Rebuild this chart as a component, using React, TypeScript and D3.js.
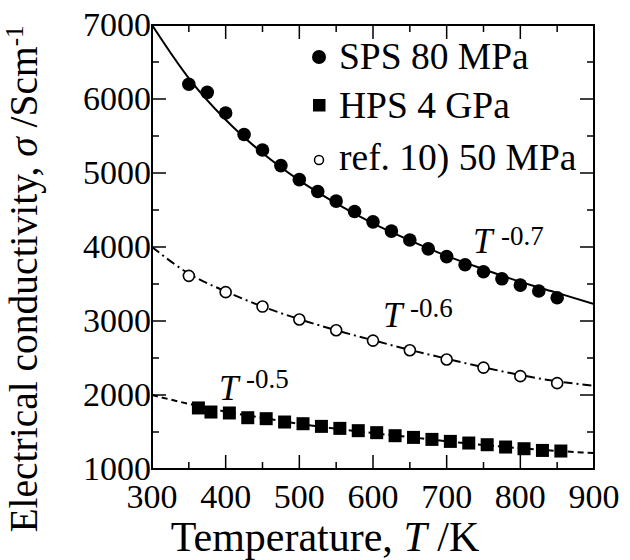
import React from "react";
import * as d3 from "d3";

// SPS 80 MPa (filled circles)
const spsTemp = [350, 375, 400, 425, 450, 475, 500, 525, 550, 575, 600, 625, 650, 675, 700, 725, 750, 775, 800, 825, 850];
const spsSigma = [6200, 6090, 5810, 5520, 5310, 5100, 4910, 4750, 4620, 4480, 4340, 4215, 4095, 3975, 3870, 3760, 3665, 3570, 3485, 3405, 3315];

// HPS 4 GPa (filled squares)
const hpsTemp = [363, 380, 405, 430, 455, 480, 505, 530, 555, 580, 605, 630, 655, 680, 705, 730, 755, 780, 805, 830, 855];
const hpsSigma = [1825, 1770, 1757, 1693, 1680, 1635, 1612, 1576, 1549, 1518, 1491, 1450, 1427, 1400, 1373, 1351, 1328, 1297, 1274, 1251, 1243];

// ref. 10) 50 MPa (open circles)
const refTemp = [350, 400, 450, 500, 550, 600, 650, 700, 750, 800, 850];
const refSigma = [3610, 3390, 3195, 3020, 2875, 2735, 2605, 2480, 2370, 2255, 2160];

// fitted curves
const fitTemp = [300, 350, 400, 450, 500, 550, 600, 650, 700, 750, 800, 850, 900];
const spsFit = [7000, 6280, 5720, 5270, 4900, 4590, 4320, 4090, 3880, 3700, 3530, 3380, 3230];
const refFit = [4000, 3640, 3400, 3195, 3025, 2875, 2740, 2610, 2490, 2375, 2270, 2185, 2125];
const hpsFit = [2000, 1880, 1775, 1690, 1610, 1545, 1485, 1430, 1375, 1325, 1280, 1245, 1215];

const xTicks = [300, 400, 500, 600, 700, 800, 900];
const yTicks = [1000, 2000, 3000, 4000, 5000, 6000, 7000];

const legendLabels = ["SPS 80 MPa", "HPS 4 GPa", "ref. 10) 50 MPa"];

const FONT = "'Liberation Serif', 'Times New Roman', serif";

export default function App() {
  const W = 630, H = 560;
  const m = { left: 152, right: 594, top: 25, bottom: 469 };

  const x = d3.scaleLinear().domain([300, 900]).range([m.left, m.right]);
  const y = d3.scaleLinear().domain([1000, 7000]).range([m.bottom, m.top]);

  const line = (temps: number[], vals: number[]) =>
    d3.line<number>()
      .x((_, i) => x(temps[i]))
      .y(d => y(d))
      .curve(d3.curveMonotoneX)(vals) || "";

  const xMinor = d3.range(350, 900, 100);
  const yMinor = d3.range(1500, 7000, 1000);

  return (
    <svg width={W} height={H} style={{ position: "absolute", left: 0, top: 0, background: "#fff" }} fontFamily={FONT}>
      <defs>
        <clipPath id="plot">
          <rect x={m.left} y={m.top} width={m.right - m.left} height={m.bottom - m.top} />
        </clipPath>
      </defs>

      {/* fit curves */}
      <g clipPath="url(#plot)" fill="none" stroke="#000" strokeWidth={2}>
        <path d={line(fitTemp, spsFit)} />
        <path d={line(fitTemp, refFit)} strokeDasharray="9,4,2,4" />
        <path d={line(fitTemp, hpsFit)} strokeDasharray="6,4" />
      </g>

      {/* markers */}
      {spsSigma.map((v, i) => (
        <circle key={"s" + i} cx={x(spsTemp[i])} cy={y(v)} r={6.8} fill="#000" />
      ))}
      {hpsSigma.map((v, i) => (
        <rect key={"h" + i} x={x(hpsTemp[i]) - 6.5} y={y(v) - 6.5} width={13} height={13} fill="#000" />
      ))}
      {refSigma.map((v, i) => (
        <circle key={"r" + i} cx={x(refTemp[i])} cy={y(v)} r={5.5} fill="#fff" stroke="#000" strokeWidth={1.6} />
      ))}

      {/* frame and ticks */}
      <rect x={m.left} y={m.top} width={m.right - m.left} height={m.bottom - m.top} fill="none" stroke="#000" strokeWidth={2} />
      <g stroke="#000" strokeWidth={1.5}>
        {xTicks.map(t => (
          <g key={"xt" + t}>
            <line x1={x(t)} x2={x(t)} y1={m.bottom} y2={m.bottom - 14} />
            <line x1={x(t)} x2={x(t)} y1={m.top} y2={m.top + 14} />
          </g>
        ))}
        {xMinor.map(t => (
          <g key={"xm" + t}>
            <line x1={x(t)} x2={x(t)} y1={m.bottom} y2={m.bottom - 7} />
            <line x1={x(t)} x2={x(t)} y1={m.top} y2={m.top + 7} />
          </g>
        ))}
        {yTicks.map(t => (
          <g key={"yt" + t}>
            <line x1={m.left} x2={m.left + 14} y1={y(t)} y2={y(t)} />
            <line x1={m.right} x2={m.right - 14} y1={y(t)} y2={y(t)} />
          </g>
        ))}
        {yMinor.map(t => (
          <g key={"ym" + t}>
            <line x1={m.left} x2={m.left + 7} y1={y(t)} y2={y(t)} />
            <line x1={m.right} x2={m.right - 7} y1={y(t)} y2={y(t)} />
          </g>
        ))}
      </g>

      {/* tick labels */}
      <g fontSize={34} fill="#000">
        {xTicks.map(t => (
          <text key={"xl" + t} x={x(t)} y={508} textAnchor="middle">{t}</text>
        ))}
        {yTicks.map(t => (
          <text key={"yl" + t} x={m.left - 1} y={y(t) + 11} textAnchor="end">{t}</text>
        ))}
      </g>

      {/* axis titles */}
      <text x={325} y={551} fontSize={42} textAnchor="middle">
        Temperature, <tspan fontStyle="italic">T</tspan> /K
      </text>
      <text transform={`translate(37, 279) rotate(-90)`} fontSize={39.5} textAnchor="middle">
        Electrical conductivity, <tspan fontStyle="italic">σ</tspan> /Scm<tspan fontSize={25} dy={-14}>-1</tspan>
      </text>

      {/* legend */}
      <g fontSize={37.5}>
        <circle cx={319} cy={57} r={7} fill="#000" />
        <text x={339} y={69}>{legendLabels[0]}</text>
        <rect x={313} y={99} width={12.5} height={12.5} fill="#000" />
        <text x={339} y={118}>{legendLabels[1]}</text>
        <circle cx={319} cy={160} r={4.5} fill="#fff" stroke="#000" strokeWidth={1.5} />
        <text x={339} y={170}>{legendLabels[2]}</text>
      </g>

      {/* power-law labels */}
      <g>
        <text x={473} y={253} fontSize={35} fontStyle="italic">T</text>
        <text x={501} y={245} fontSize={27}>-0.7</text>
        <text x={383} y={327} fontSize={35} fontStyle="italic">T</text>
        <text x={410} y={317} fontSize={27}>-0.6</text>
        <text x={219} y={400} fontSize={35} fontStyle="italic">T</text>
        <text x={246} y={388} fontSize={27}>-0.5</text>
      </g>
    </svg>
  );
}
